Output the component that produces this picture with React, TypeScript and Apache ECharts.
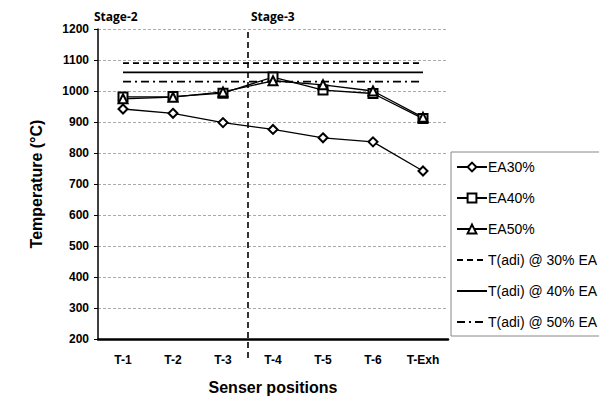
import React, { useEffect, useRef } from "react";
import * as echarts from "echarts";

const categories = ["T-1", "T-2", "T-3", "T-4", "T-5", "T-6", "T-Exh"];
const ea30 = [942, 928, 898, 876, 849, 836, 742];
const ea40 = [981, 982, 993, 1045, 1003, 992, 911];
const ea50 = [975, 980, 997, 1033, 1020, 1000, 915];
const tadi30 = [1090, 1090, 1090, 1090, 1090, 1090, 1090];
const tadi40 = [1060, 1060, 1060, 1060, 1060, 1060, 1060];
const tadi50 = [1030, 1030, 1030, 1030, 1030, 1030, 1030];
const stageBoundary = [[3, 139], [3, 1200]];
const legendNames = ["EA30%", "EA40%", "EA50%", "T(adi) @ 30% EA", "T(adi) @ 40% EA", "T(adi) @ 50% EA"];

const AR = "'Liberation Sans', Arial, sans-serif";

export default function App() {
  const ref = useRef<HTMLDivElement>(null);
  useEffect(() => {
    const chart = echarts.init(ref.current!, null, { renderer: "svg" });
    const markerSeries = (name: string, data: number[], symbol: string) => ({
      name,
      type: "line",
      data,
      symbol,
      symbolSize: 9,
      showSymbol: true,
      itemStyle: { color: "#000", borderColor: "#000", borderWidth: 1.2 },
      lineStyle: { color: "#000", width: 1.3 },
      z: 5,
    });
    const refSeries = (name: string, data: number[], type: any) => ({
      name,
      type: "line",
      data,
      symbol: "none",
      itemStyle: { color: "#000", opacity: 0 },
      lineStyle: { color: "#000", width: 1.7, type },
      z: 3,
    });
    chart.setOption({
      animation: false,
      backgroundColor: "#fff",
      textStyle: { fontFamily: AR },
      grid: { left: 98, right: 151, top: 29, bottom: 57, outerBoundsMode: "none", containLabel: false },
      legend: {
        data: legendNames,
        orient: "vertical",
        left: 451,
        top: 152,
        padding: [8, 6, 7, 5],
        itemGap: 17,
        itemWidth: 30,
        itemHeight: 11,
        borderColor: "#888",
        borderWidth: 1,
        textStyle: { fontFamily: AR, fontSize: 14, color: "#000", padding: [0, 0, 0, -4] },
      },
      xAxis: [
        {
          type: "category",
          data: categories,
          boundaryGap: true,
          axisLine: { lineStyle: { color: "#000", width: 2.5 } },
          axisTick: { show: false },
          axisLabel: { fontFamily: AR, fontWeight: "bold", fontSize: 12, color: "#000", margin: 15 },
          name: "Senser positions",
          nameLocation: "middle",
          nameGap: 40,
          nameTextStyle: { fontFamily: AR, fontWeight: "bold", fontSize: 16, color: "#000" },
        },
        { type: "value", min: 0, max: 7, show: false },
      ],
      yAxis: {
        type: "value",
        min: 200,
        max: 1200,
        interval: 100,
        axisLine: { show: true, lineStyle: { color: "#000", width: 1.5 } },
        axisTick: { show: true, length: 4, lineStyle: { color: "#000" } },
        axisLabel: {
          fontFamily: AR,
          fontWeight: "bold",
          fontSize: 12,
          color: "#000",
          margin: 9,
          formatter: (v: number) => String(v),
        },
        splitLine: { lineStyle: { color: "#aaa", type: [3, 2], width: 1 } },
        name: "Temperature (°C)",
        nameLocation: "middle",
        nameGap: 54,
        nameTextStyle: { fontFamily: AR, fontWeight: "bold", fontSize: 16, color: "#000" },
      },
      graphic: [
        { type: "text", left: 94, top: 10, style: { text: "Stage-2", font: "bold 12px 'Open Sans', sans-serif", fill: "#000" } },
        { type: "text", left: 251, top: 10, style: { text: "Stage-3", font: "bold 12px 'Open Sans', sans-serif", fill: "#000" } },
      ],
      series: [
        refSeries("T(adi) @ 30% EA", tadi30, [6, 4]),
        refSeries("T(adi) @ 40% EA", tadi40, "solid"),
        refSeries("T(adi) @ 50% EA", tadi50, [8, 4, 2, 4]),
        markerSeries("EA30%", ea30, "emptyDiamond"),
        markerSeries("EA40%", ea40, "emptyRect"),
        markerSeries("EA50%", ea50, "emptyTriangle"),
        {
          name: "boundary",
          type: "line",
          xAxisIndex: 1,
          data: stageBoundary,
          symbol: "none",
          clip: false,
          lineStyle: { color: "#000", width: 1.6, type: [6, 4] },
          z: 2,
        },
      ],
    });
    return () => chart.dispose();
  }, []);
  return <div ref={ref} style={{ width: 599, height: 396, position: "absolute", left: 0, top: 0 }} />;
}
